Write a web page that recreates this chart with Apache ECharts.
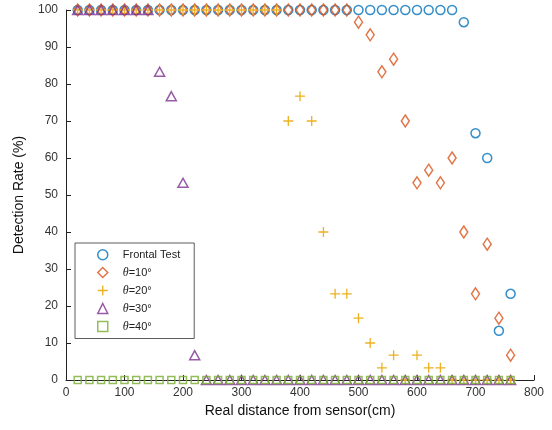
<!DOCTYPE html>
<html><head><meta charset="utf-8">
<script src="https://cdn.jsdelivr.net/npm/echarts@6/dist/echarts.min.js"></script>
<style>html,body{margin:0;padding:0;background:#fff}#c{width:552px;height:430px}</style>
</head><body><div id="c"></div>
<script>
const distance = [20,40,60,80,100,120,140,160,180,200,220,240,260,280,300,320,340,360,380,400,420,440,460,480,500,520,540,560,580,600,620,640,660,680,700,720,740,760];
const frontal = [100,100,100,100,100,100,100,100,100,100,100,100,100,100,100,100,100,100,100,100,100,100,100,100,100,100,100,100,100,100,100,100,100,96.7,66.7,60,13.3,23.3];
const theta10 = [100,100,100,100,100,100,100,100,100,100,100,100,100,100,100,100,100,100,100,100,100,100,100,100,96.7,93.3,83.3,86.7,70,53.3,56.7,53.3,60,40,23.3,36.7,16.7,6.7];
const theta20 = [100,100,100,100,100,100,100,100,100,100,100,100,100,100,100,100,100,100,70,76.7,70,40,23.3,23.3,16.7,10,3.3,6.7,0,6.7,3.3,3.3,0,0,0,0,0,0];
const theta30 = [100,100,100,100,100,100,100,83.3,76.7,53.3,6.7,0,0,0,0,0,0,0,0,0,0,0,0,0,0,0,0,0,0,0,0,0,0,0,0,0,0,0];
const theta40 = [0,0,0,0,0,0,0,0,0,0,0,0,0,0,0,0,0,0,0,0,0,0,0,0,0,0,0,0,0,0,0,0,0,0,0,0,0,0];
const xTicks = [0,100,200,300,400,500,600,700,800];
const yTicks = [0,10,20,30,40,50,60,70,80,90,100];
const seriesNames = ['Frontal Test','θ=10°','θ=20°','θ=30°','θ=40°'];

const colors = ['#0072BD','#D95319','#EDB120','#7E2F8E','#77AC30'];
const plusPath = 'path://M4,0h1.2v4h4v1.2h-4v4h-1.2v-4h-4v-1.2h4z';
const symbols = ['circle','diamond',plusPath,'triangle','rect'];
const sizes = [[9,9],[8,12],[10,10],[10,9],[7,7]];
const dataSets = [frontal, theta10, theta20, theta30, theta40];

const chart = echarts.init(document.getElementById('c'));
const series = dataSets.map((d,i)=>({
  name: seriesNames[i], type:'scatter', symbol: symbols[i], symbolSize: sizes[i],
  clip:false,
  data: distance.map((x,k)=>[x,d[k]]),
  itemStyle: i===2 ? {color: colors[i], opacity:1} : {color:'rgba(255,255,255,0)', borderColor: colors[i], borderWidth:1.5},
  emphasis:{disabled:true}, z: 2+i
}));
chart.setOption({
  animation:false,
  grid:{left:66, right:18, top:10, bottom:50},
  legend:{
    orient:'vertical', left:75, top:243,
    padding:[6,14,6,22], itemGap:6, itemWidth:10, itemHeight:10,
    backgroundColor:'#fff', borderColor:'#333', borderWidth:0.8,
    textStyle:{fontFamily:'Liberation Sans, Arial', fontSize:11, color:'#222', padding:[0,0,0,10],
      rich:{i:{fontStyle:'italic', fontFamily:'Liberation Serif', fontSize:12, color:'#222'}}},
    formatter: n => n.startsWith('θ') ? '{i|θ}' + n.slice(1) : n,
    data: seriesNames.map((n,i)=>({name:n, icon: symbols[i],
      itemStyle: i===2 ? {color:colors[i]} : {color:'rgba(255,255,255,0)', borderColor:colors[i], borderWidth:1.5}}))
  },
  xAxis:{type:'value', min:0, max:800, interval:100,
    name:'Real distance from sensor(cm)', nameLocation:'middle', nameGap:22,
    nameTextStyle:{fontFamily:'Liberation Sans, Arial', fontSize:14, color:'#111'},
    axisLine:{show:true, onZero:false, lineStyle:{color:'#222', width:1}},
    axisTick:{show:true, inside:true, length:5, lineStyle:{color:'#222'}},
    axisLabel:{fontFamily:'Liberation Sans, Arial', fontSize:12, color:'#333', margin:7,
      formatter: v => xTicks.includes(v) ? String(v) : ''},
    splitLine:{show:false}},
  yAxis:{type:'value', min:0, max:100, interval:10,
    name:'Detection Rate (%)', nameLocation:'middle', nameGap:40,
    nameTextStyle:{fontFamily:'Liberation Sans, Arial', fontSize:14, color:'#111'},
    axisLine:{show:true, lineStyle:{color:'#222', width:1}},
    axisTick:{show:true, inside:true, length:5, lineStyle:{color:'#222'}},
    axisLabel:{fontFamily:'Liberation Sans, Arial', fontSize:12, color:'#333', margin:8,
      formatter: v => yTicks.includes(v) ? String(v) : ''},
    splitLine:{show:false}},
  series
});
</script></body></html>
